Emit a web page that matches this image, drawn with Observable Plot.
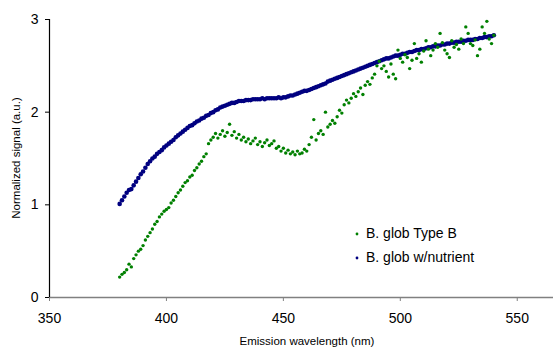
<!DOCTYPE html>
<html>
<head>
<meta charset="utf-8">
<script src="https://cdn.jsdelivr.net/npm/d3@7"></script>
<script src="https://cdn.jsdelivr.net/npm/@observablehq/plot@0.6"></script>
<style>
  html, body { margin: 0; padding: 0; background: #fff; }
  #chart { width: 553px; height: 347px; overflow: hidden; }
</style>
</head>
<body>
<div id="chart"></div>
<script>
const seriesNames = ["B. glob Type B", "B. glob w/nutrient"];
const seriesColors = ["#008000", "#000080"];
const xTicks = [350, 400, 450, 500, 550];
const yTicks = [0, 1, 2, 3];
const xTitle = "Emission wavelength (nm)";
const yTitle = "Normalized signal (a.u.)";
const wlStart = 380; // first wavelength, 1 nm steps to 540

const nutrientValues = [
  1.01,1.05,1.09,1.13,1.16,1.17,1.21,1.25,1.29,1.33,
  1.36,1.40,1.44,1.47,1.50,1.52,1.55,1.57,1.59,1.62,
  1.64,1.66,1.68,1.70,1.73,1.75,1.77,1.79,1.81,1.83,
  1.85,1.86,1.88,1.90,1.91,1.93,1.94,1.96,1.97,1.99,
  2.00,2.02,2.03,2.05,2.06,2.07,2.08,2.09,2.10,2.10,
  2.11,2.12,2.12,2.12,2.13,2.13,2.13,2.14,2.14,2.14,
  2.14,2.15,2.14,2.15,2.15,2.15,2.15,2.15,2.16,2.15,
  2.16,2.16,2.17,2.18,2.18,2.19,2.20,2.21,2.22,2.23,
  2.23,2.24,2.25,2.26,2.27,2.28,2.29,2.30,2.31,2.33,
  2.34,2.35,2.36,2.37,2.38,2.39,2.40,2.41,2.42,2.43,
  2.44,2.45,2.46,2.47,2.48,2.49,2.50,2.51,2.52,2.53,
  2.54,2.55,2.56,2.57,2.58,2.58,2.59,2.60,2.61,2.61,
  2.62,2.63,2.63,2.64,2.65,2.65,2.66,2.67,2.67,2.68,
  2.68,2.69,2.70,2.70,2.71,2.71,2.72,2.72,2.73,2.73,
  2.74,2.74,2.75,2.75,2.76,2.76,2.76,2.77,2.77,2.78,
  2.78,2.78,2.79,2.79,2.80,2.80,2.81,2.81,2.82,2.82,
  2.83
];

const typeBValues = [
  0.22,0.25,0.27,0.30,0.36,0.33,0.42,0.46,0.50,0.52,
  0.56,0.62,0.66,0.70,0.74,0.79,0.82,0.87,0.90,0.93,
  0.95,0.97,1.02,1.05,1.09,1.13,1.16,1.20,1.24,1.26,
  1.30,1.32,1.37,1.40,1.44,1.47,1.52,1.55,1.66,1.70,
  1.73,1.77,1.72,1.76,1.80,1.74,1.78,1.87,1.75,1.79,
  1.72,1.76,1.70,1.73,1.68,1.71,1.66,1.69,1.72,1.65,
  1.68,1.63,1.67,1.70,1.64,1.66,1.69,1.61,1.63,1.58,
  1.61,1.56,1.59,1.55,1.57,1.54,1.58,1.55,1.56,1.60,
  1.58,1.65,1.73,1.92,1.70,1.77,1.80,1.76,2.00,1.84,
  1.87,1.91,1.88,1.95,2.02,1.99,2.08,2.13,2.10,2.15,
  2.20,2.17,2.22,2.26,2.19,2.29,2.33,2.30,2.37,2.41,
  2.50,2.55,2.47,2.50,2.44,2.38,2.52,2.41,2.36,2.67,
  2.58,2.54,2.62,2.59,2.47,2.56,2.74,2.58,2.63,2.54,
  2.66,2.77,2.68,2.61,2.67,2.74,2.70,2.85,2.75,2.67,
  2.63,2.59,2.77,2.70,2.73,2.68,2.79,2.74,2.92,2.85,
  2.74,2.72,2.78,2.61,2.68,2.92,2.85,2.98,2.79,2.74,
  2.83
];

const nutrientRows = nutrientValues.map((v, i) => ({wl: wlStart + i, value: v}));
const typeBRows = typeBValues.map((v, i) => ({wl: wlStart + i, value: v}));

const chart = Plot.plot({
  width: 553,
  height: 347,
  marginLeft: 49,
  marginRight: 0,
  marginTop: 19,
  marginBottom: 50,
  style: {fontFamily: "'Liberation Sans', Arial, sans-serif", fontSize: "14px", color: "#000", background: "#fff"},
  x: {domain: [350, 565.5]},
  y: {domain: [0, 3]},
  marks: [
    Plot.ruleY([0], {stroke: "#808080", strokeWidth: 1.3}),
    Plot.ruleX([350], {stroke: "#000", strokeWidth: 1.2}),
    Plot.axisX({ticks: xTicks, tickSize: 4, tickPadding: 12, label: null, stroke: "#808080", tickFormat: d3.format("d"), fontSize: 14}),
    Plot.axisY({ticks: yTicks, tickSize: 4, tickPadding: 7, label: null, tickFormat: d3.format("d"), fontSize: 14}),
    Plot.dot(nutrientRows, {x: "wl", y: "value", r: 2.3, fill: seriesColors[1], stroke: null}),
    Plot.dot(typeBRows, {x: "wl", y: "value", r: 1.7, fill: seriesColors[0], stroke: null})
  ]
});

document.getElementById("chart").appendChild(chart);

const svg = d3.select(chart);
svg.append("text")
  .attr("transform", "translate(20,158) rotate(-90)")
  .attr("text-anchor", "middle")
  .attr("font-size", 11.5)
  .attr("fill", "#000")
  .text(yTitle);
svg.append("text")
  .attr("x", 307).attr("y", 345)
  .attr("text-anchor", "middle")
  .attr("font-size", 11.5)
  .attr("fill", "#000")
  .text(xTitle);

const legend = svg.append("g").attr("text-anchor", "start");
seriesNames.forEach((name, i) => {
  const cy = 233 + i * 24;
  legend.append("circle").attr("cx", 357).attr("cy", cy + 1).attr("r", 1.4).attr("fill", seriesColors[i]);
  legend.append("text").attr("x", 366).attr("y", cy + 5).attr("text-anchor", "start").attr("font-size", 14).attr("fill", "#000").text(name);
});
</script>
</body>
</html>
